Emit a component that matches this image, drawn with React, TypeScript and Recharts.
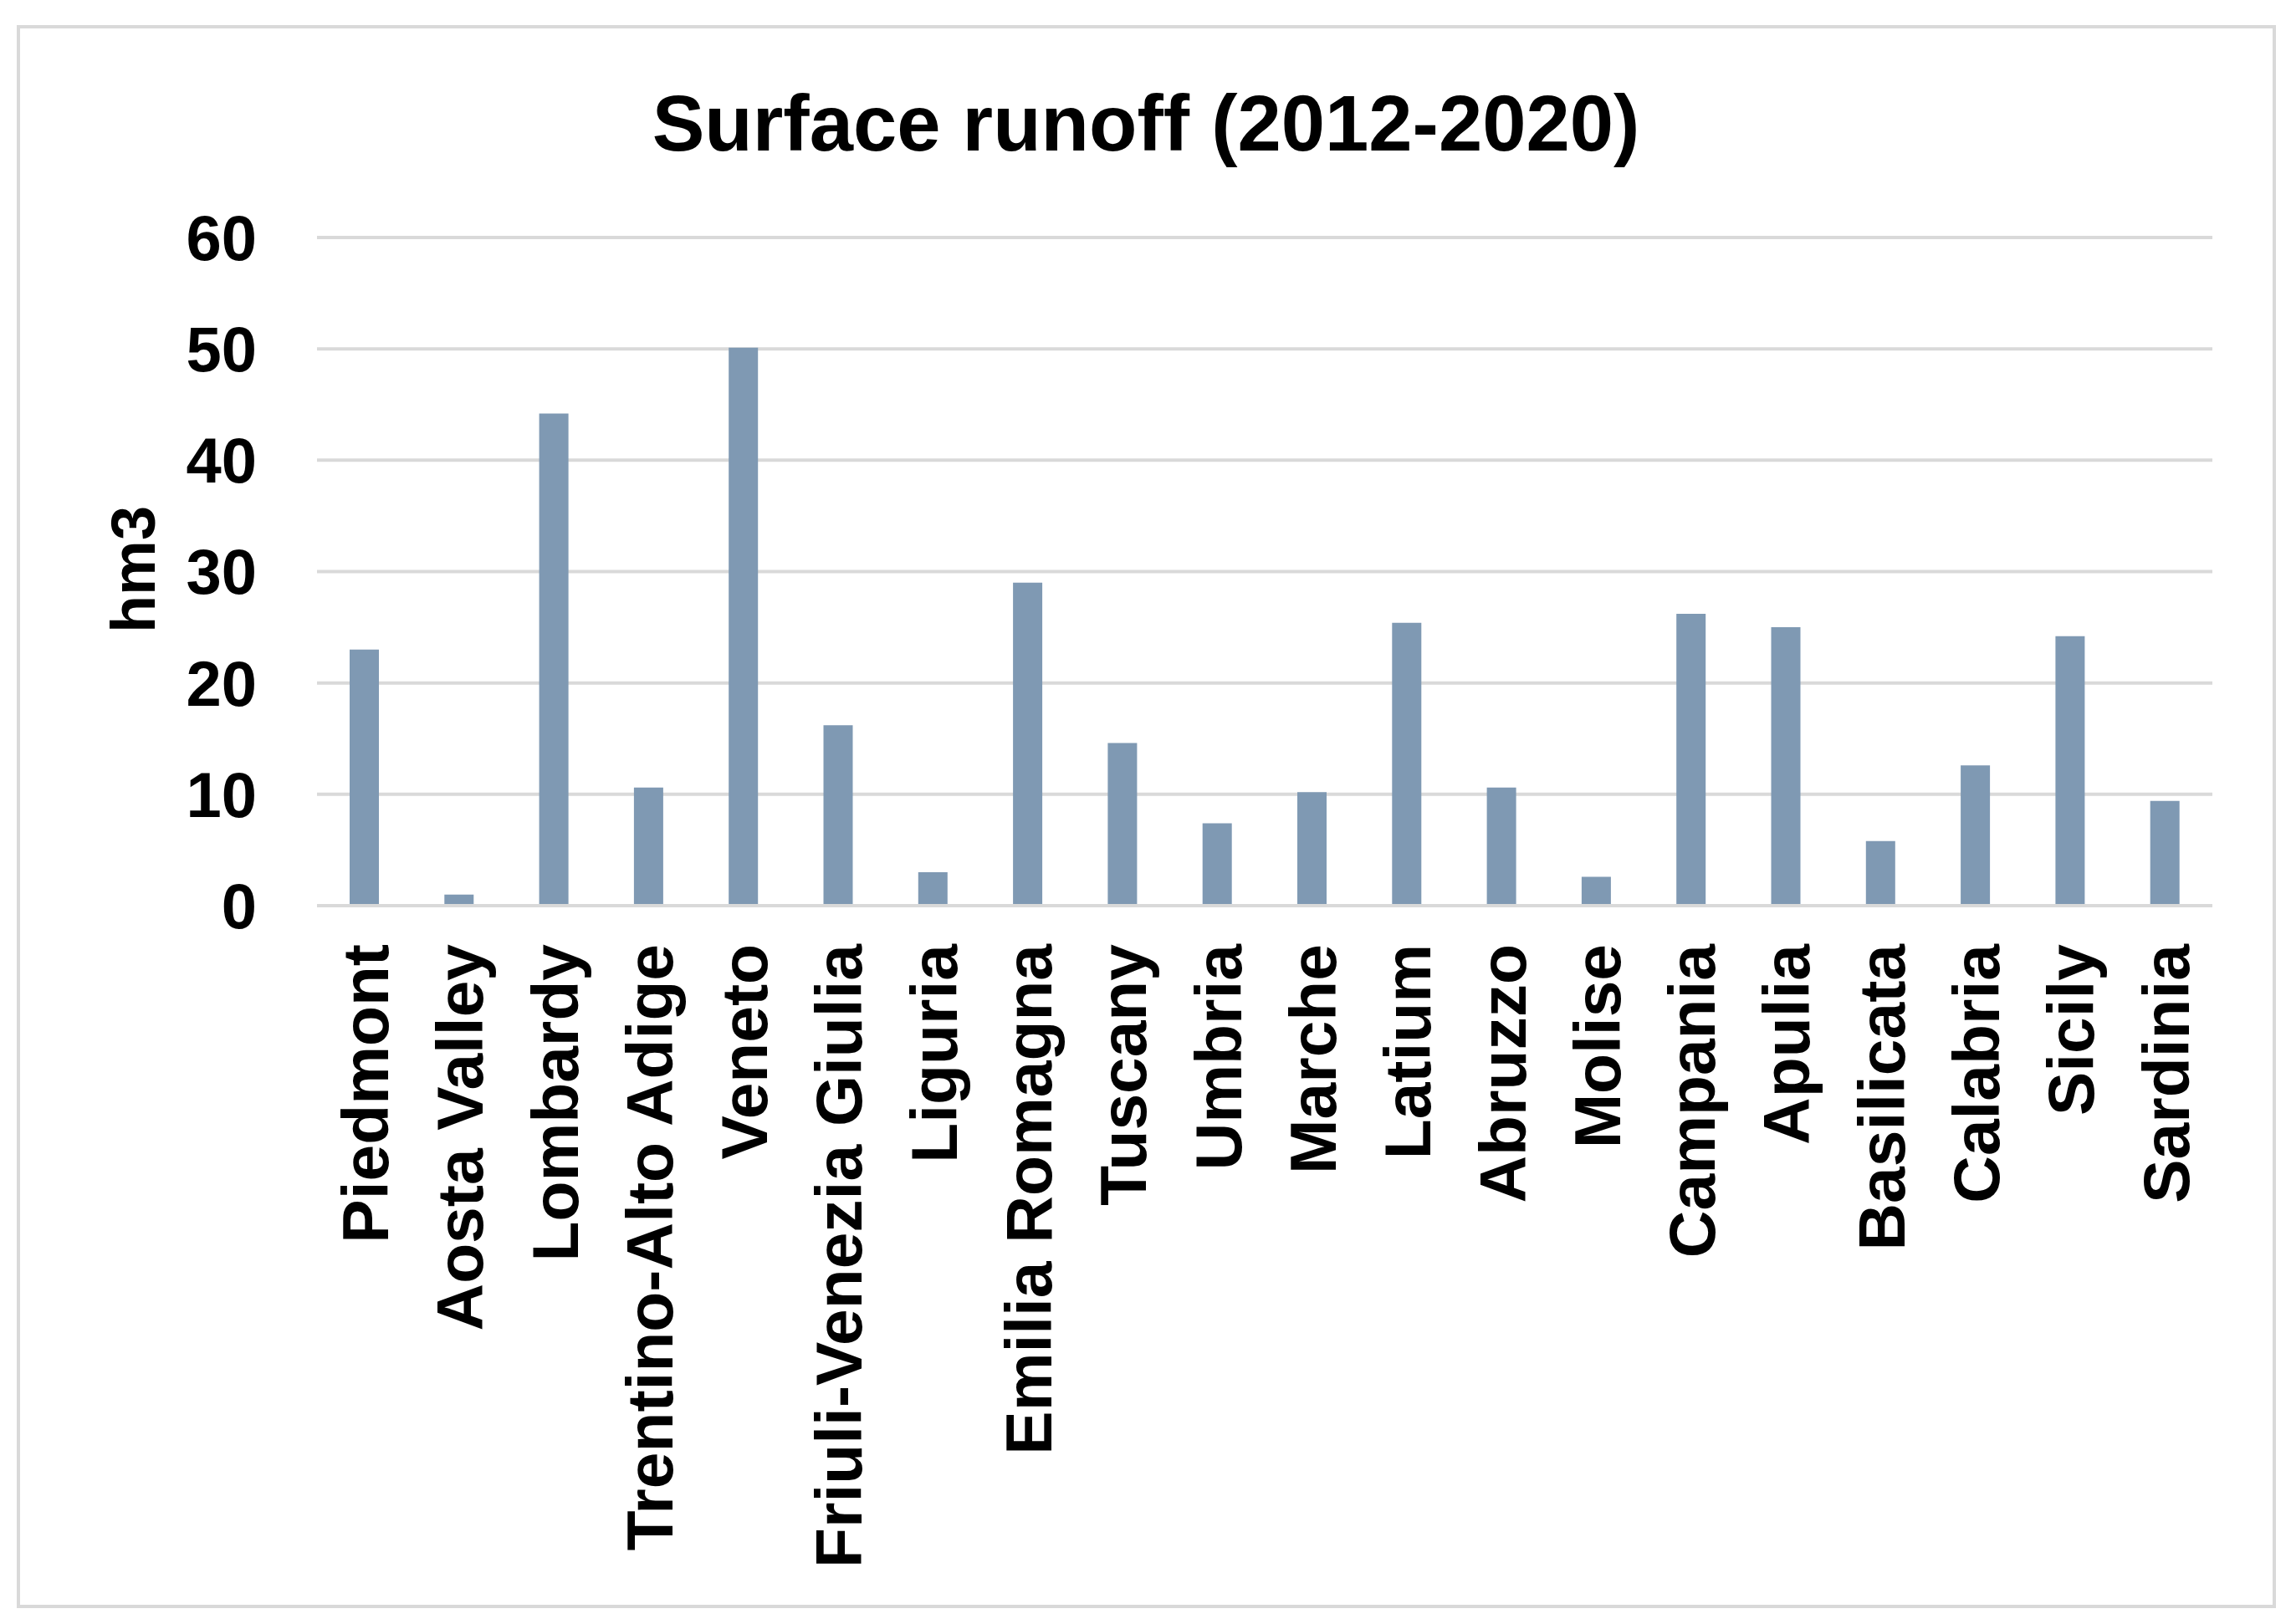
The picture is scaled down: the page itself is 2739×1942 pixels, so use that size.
import { Bar, BarChart, CartesianGrid, XAxis, YAxis } from 'recharts';

const regions = [
  'Piedmont',
  'Aosta Valley',
  'Lombardy',
  'Trentino-Alto Adige',
  'Veneto',
  'Friuli-Venezia Giulia',
  'Liguria',
  'Emilia Romagna',
  'Tuscany',
  'Umbria',
  'Marche',
  'Latium',
  'Abruzzo',
  'Molise',
  'Campania',
  'Apulia',
  'Basilicata',
  'Calabria',
  'Sicily',
  'Sardinia',
];

const runoff = [
  23.0, 1.0, 44.2, 10.6, 50.1, 16.2, 3.0, 29.0, 14.6, 7.4, 10.2, 25.4, 10.6, 2.6, 26.2, 25.0, 5.8,
  12.6, 24.2, 9.4,
];

const yTicks = [0, 10, 20, 30, 40, 50, 60];

const data = regions.map((region, i) => ({ region, runoff: runoff[i] }));

const FONT = '"Liberation Sans", Arial, sans-serif';
const W = 2739;
const H = 1942;

function RegionTick({ x, y, payload }: any) {
  return (
    <text
      x={x}
      y={y}
      transform={`rotate(-90, ${x}, ${y})`}
      textAnchor="end"
      dy="0.36em"
      fontSize={78.5}
      fontWeight="bold"
      fontFamily={FONT}
      fill="#000"
    >
      {payload.value}
    </text>
  );
}

export default function App() {
  return (
    <div style={{ position: 'absolute', left: 0, top: 0, width: W, height: H, background: '#fff' }}>
      <BarChart
        width={W}
        height={H}
        data={data}
        margin={{ top: 284, right: 94, bottom: 0, left: 0 }}
      >
        <CartesianGrid horizontal vertical={false} stroke="#D9D9D9" strokeWidth={4} />
        <XAxis
          dataKey="region"
          interval={0}
          height={859}
          tick={<RegionTick />}
          tickSize={0}
          tickMargin={46}
          tickLine={false}
          axisLine={{ stroke: '#D9D9D9', strokeWidth: 4 }}
        />
        <YAxis
          width={379}
          domain={[0, 60]}
          ticks={yTicks}
          interval={0}
          tickSize={0}
          tickMargin={72}
          axisLine={false}
          tickLine={false}
          tick={{ fontSize: 76, fontWeight: 'bold', fill: '#000', fontFamily: FONT }}
        />
        <Bar dataKey="runoff" fill="#7F99B3" barSize={35} isAnimationActive={false} />
      </BarChart>
      <svg
        width={W}
        height={H}
        style={{ position: 'absolute', left: 0, top: 0, pointerEvents: 'none' }}
      >
        <rect x={22} y={32} width={2697} height={1889} fill="none" stroke="#D9D9D9" strokeWidth={4} />
        <text x={1370} y={180} textAnchor="middle" fontSize={94} fontWeight="bold" fontFamily={FONT} fill="#000">
          Surface runoff (2012-2020)
        </text>
        <text
          x={158}
          y={681}
          transform="rotate(-90, 158, 681)"
          textAnchor="middle"
          dy="0.36em"
          fontSize={74}
          fontWeight="bold"
          fontFamily={FONT}
          fill="#000"
        >
          hm3
        </text>
      </svg>
    </div>
  );
}
